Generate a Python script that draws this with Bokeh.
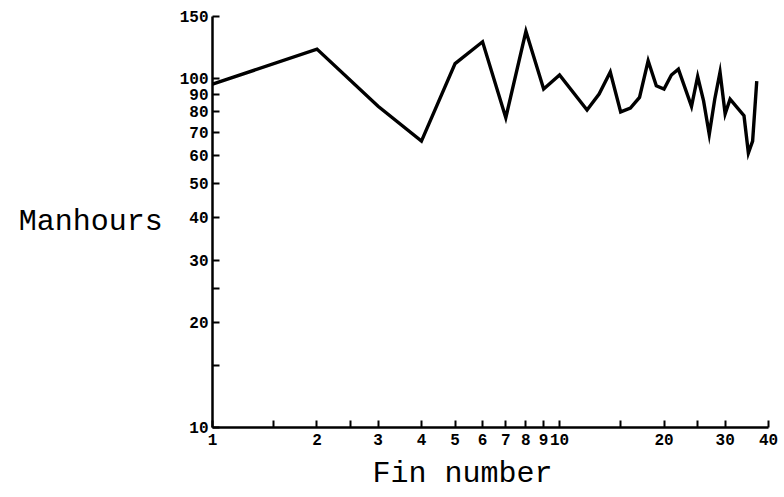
from bokeh.plotting import figure
from bokeh.models import FixedTicker, Title
from bokeh.embed import file_html
from bokeh.resources import INLINE

fin = [1, 2, 3, 4, 5, 6, 7, 8, 9, 10, 12, 13, 14, 15, 16, 17, 18, 19, 20, 21,
       22, 24, 25, 26, 27, 28, 29, 30, 31, 34, 35, 36, 37]
manhours = [96, 121, 83, 66, 110, 127, 77, 136, 93, 102, 81, 90, 104, 80, 82, 88,
            112, 95, 93, 102, 106, 83, 101, 86, 69, 87, 104, 79, 87, 78, 61, 66, 98]

x_ticks = [1, 1.5, 2, 2.5, 3, 4, 5, 6, 7, 8, 9, 10, 15, 20, 25, 30, 40]
x_blank = [1.5, 2.5, 15, 25]
y_ticks = [10, 15, 20, 25, 30, 40, 50, 60, 70, 80, 90, 100, 150]
y_blank = [15, 25]

p = figure(x_axis_type="log", y_axis_type="log",
           x_range=(1, 40), y_range=(10, 150),
           output_backend="svg", toolbar_location=None,
           frame_width=556, frame_height=411,
           min_border_left=212, min_border_right=12, min_border_top=16,
           min_border_bottom=4)
p.outline_line_color = None
p.background_fill_color = "white"
p.border_fill_color = "white"
p.xgrid.visible = False
p.ygrid.visible = False

p.line(fin, manhours, line_color="black", line_width=3.4, line_join="miter")

for ax, ticks, blanks in ((p.xaxis[0], x_ticks, x_blank), (p.yaxis[0], y_ticks, y_blank)):
    ax.ticker = FixedTicker(ticks=ticks, minor_ticks=[])
    ax.major_label_overrides = {t: ("" if t in blanks else str(t)) for t in ticks}
    ax.axis_line_color = "black"
    ax.axis_line_width = 2.5
    ax.major_tick_line_color = "black"
    ax.major_tick_line_width = 2
    ax.major_tick_in = 7
    ax.major_tick_out = 0
    ax.minor_tick_line_color = None
    ax.major_label_text_font = "Liberation Mono"
    ax.major_label_text_font_style = "bold"
    ax.major_label_text_font_size = "16px"
    ax.major_label_text_color = "black"

p.xaxis.major_label_standoff = 6
p.yaxis.major_label_standoff = 4

p.yaxis.axis_label = "Manhours"
p.yaxis.axis_label_orientation = "horizontal"
p.yaxis.axis_label_text_font = "Liberation Mono"
p.yaxis.axis_label_text_font_style = "normal"
p.yaxis.axis_label_text_font_size = "30px"
p.yaxis.axis_label_text_color = "black"
p.yaxis.axis_label_standoff = 14

p.add_layout(Title(text="Fin number", align="left", offset=160,
                   text_font="Liberation Mono", text_font_style="normal",
                   text_font_size="30px", text_color="black", standoff=15),
             "below")

open("out.html", "w").write(file_html(p, INLINE))
